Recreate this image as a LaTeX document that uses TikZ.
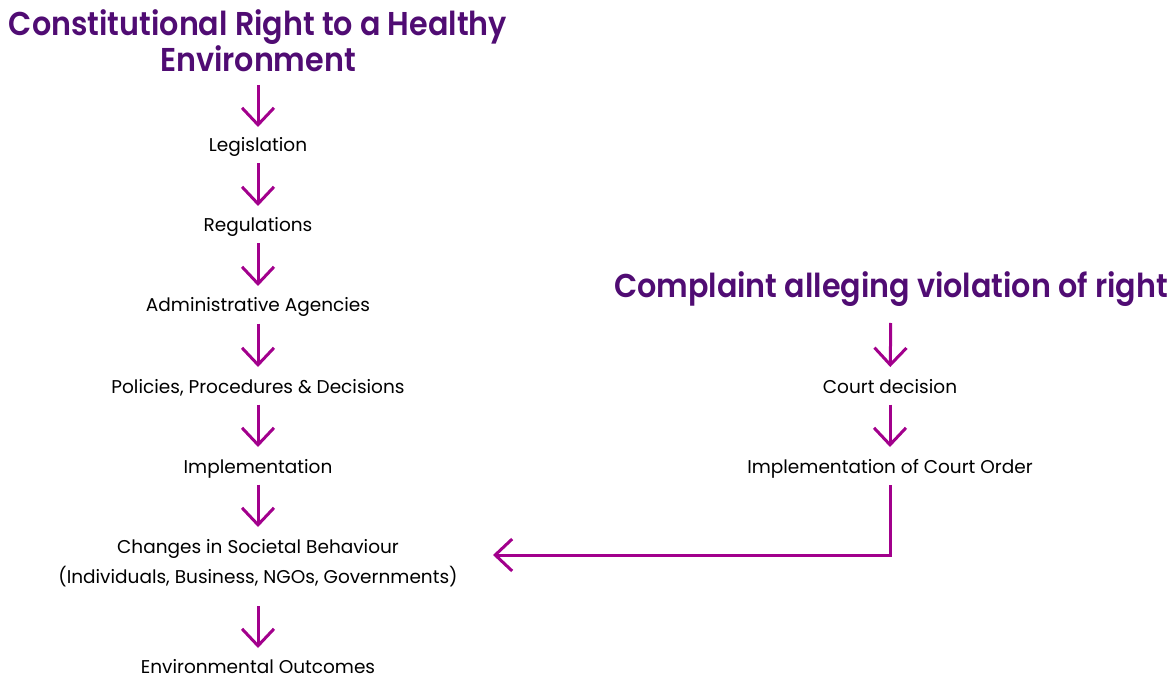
\documentclass[tikz,border=0pt]{standalone}
\usepackage{fontspec}
\setmainfont{Poppins}
\newfontfamily\titlefont[FakeStretch=0.915]{Poppins SemiBold}
\newfontfamily\bodyfont{Poppins}
\usetikzlibrary{arrows.meta}
\definecolor{titlepurple}{RGB}{80,12,115}
\definecolor{arrowmagenta}{RGB}{162,0,140}
\tikzset{
  heading/.style={font=\titlefont\fontsize{33}{36}\selectfont, text=titlepurple, inner sep=0pt, align=center, anchor=base},
  label/.style={font=\bodyfont\fontsize{18.5}{30}\selectfont, text=black, inner sep=0pt, anchor=base},
  arr/.style={draw=arrowmagenta, line width=3pt, -{Straight Barb[length=17pt,width=32pt]}},
  down/.style={arr, shorten <=11.5pt, shorten >=26pt},
}
\begin{document}
\begin{tikzpicture}[x=1pt,y=-1pt]
\useasboundingbox (0,0) rectangle (1176,679);
% left column
\node[heading] (t1) at (258,72) {Constitutional Right to a Healthy\\Environment};
\node[label] (leg) at (258,152) {Legislation};
\node[label] (reg) at (258,232) {Regulations};
\node[label] (adm) at (258,312) {Administrative Agencies};
\node[label] (pol) at (258,393) {Policies, Procedures \& Decisions};
\node[label] (imp) at (258,473) {Implementation};
\node[label, align=center] (chg) at (258,583) {Changes in Societal Behaviour\\(Individuals, Business, NGOs, Governments)};
\node[label] (env) at (258,673) {Environmental Outcomes};
% right column
\node[heading] (t2) at (891,298) {Complaint alleging violation of right};
\node[label] (crt) at (890,393) {Court decision};
\node[label] (ico) at (890,473) {Implementation of Court Order};
\coordinate (tipc) at (493,555);
% connectors
\draw[down, shorten <=13pt, shorten >=25pt] (t1.base) -- (leg.base);
\draw[down] (leg.base) -- (reg.base);
\draw[down] (reg.base) -- (adm.base);
\draw[down] (adm.base) -- (pol.base);
\draw[down] (pol.base) -- (imp.base);
\draw[down, shorten >=56pt] (imp.base) -- (chg.base);
\draw[down, shorten <=23pt, shorten >=25pt] (chg.base) -- (env.base);
\draw[down, shorten <=25pt] (t2.base) -- (crt.base);
\draw[down] (crt.base) -- (ico.base);
\draw[arr, line join=miter] ([yshift=-12pt]ico.base) |- (tipc);
\end{tikzpicture}
\end{document}
